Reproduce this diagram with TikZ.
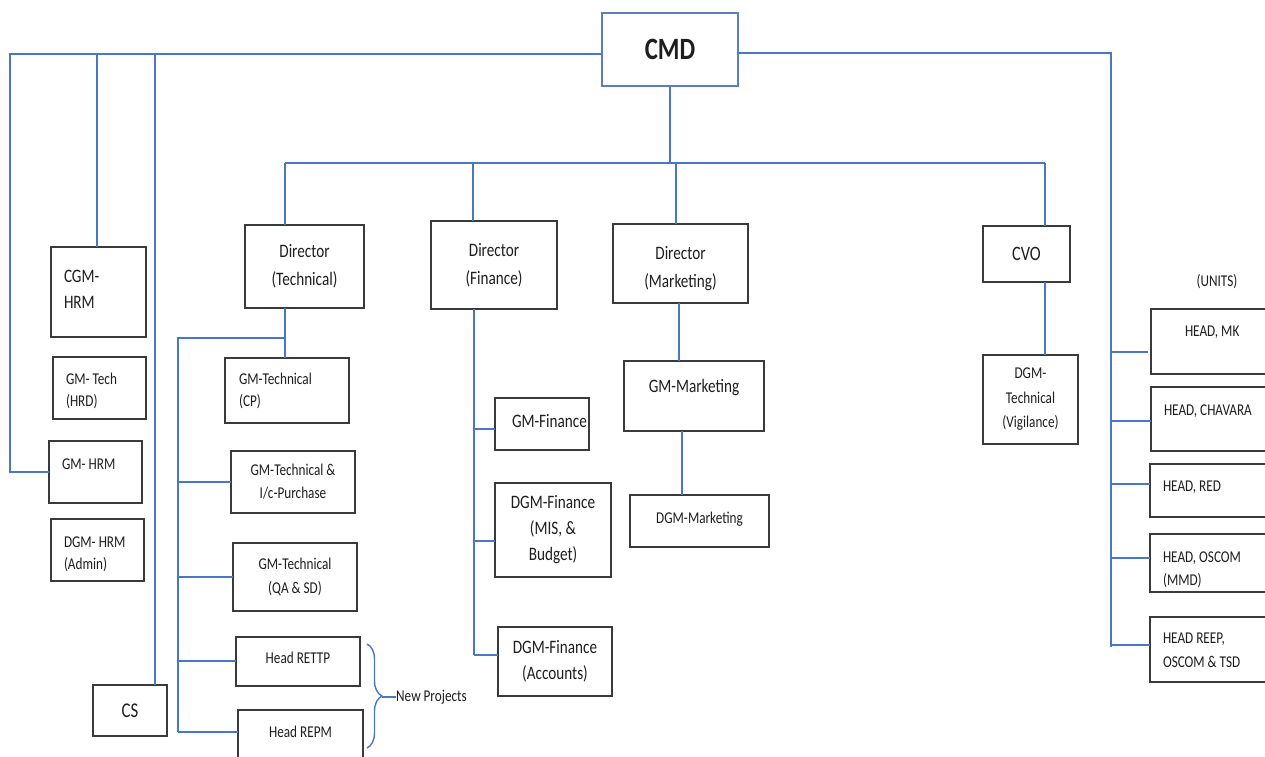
\documentclass[tikz,border=0pt]{standalone}
\usepackage{fontspec}
\setmainfont{Carlito}[FakeStretch=0.8]
\usetikzlibrary{decorations.pathreplacing}
\definecolor{lnblue}{HTML}{4A76C8}
\definecolor{cmdblue}{HTML}{5A7EC0}
\definecolor{boxgray}{HTML}{3A3A3A}
\definecolor{txtc}{HTML}{1E1E1E}
\newcommand{\fsmall}{\fontsize{16.5}{23}\selectfont}
\newcommand{\fbig}{\fontsize{19}{27}\selectfont}
% width, height, first-baseline offset, alignment+font, text
\newcommand{\topbx}[5]{\parbox[c][#2pt][t]{#1pt}{#4\rule{0pt}{#3pt}#5}}
% width, height, font, text (vertically centred)
\newcommand{\cbx}[4]{\parbox[c][#2pt][c]{#1pt}{#3\centering #4}}
\newcommand{\lft}[1]{\raggedright\leftskip=#1pt\relax}
\tikzset{
  x=1pt, y=-1pt,
  bx/.style={draw=boxgray, line width=1.5pt, inner sep=0pt, outer sep=0pt, anchor=north west, text=txtc, fill=white},
  cmdbx/.style={bx, draw=cmdblue, line width=1.8pt},
  ln/.style={draw=lnblue, line width=1.4pt},
  plain/.style={inner sep=0pt, text=txtc}
}
\begin{document}
\begin{tikzpicture}
\path[use as bounding box, fill=white] (0,0) rectangle (1265,756);
\clip (0,0) rectangle (1265,756);

% ---------- boxes ----------
\node[cmdbx] (cmd) at (602,13) {\cbx{136}{73}{\fontsize{31}{31}\selectfont\bfseries}{CMD}};

\node[bx] (cgm) at (51,247) {\topbx{95}{90}{35}{\fontsize{19}{26}\selectfont\lft{13}}{CGM-\\HRM}};
\node[bx] (hrd) at (53,357) {\topbx{93}{62}{27}{\fontsize{16.5}{22}\selectfont\lft{13}}{GM- Tech\\(HRD)}};
\node[bx] (gmhrm) at (49,441) {\topbx{93}{62}{28}{\fsmall\lft{13}}{GM- HRM}};
\node[bx] (dgmhrm) at (51,519) {\topbx{93}{62}{28}{\fontsize{16.5}{22}\selectfont\lft{13}}{DGM- HRM\\(Admin)}};
\node[bx] (cs) at (93,685) {\cbx{74}{51}{\fontsize{21}{21}\selectfont}{CS}};

\node[bx] (dt) at (245,225) {\cbx{119}{83}{\fontsize{19}{28}\selectfont}{Director\\(Technical)}};
\node[bx] (df) at (431,221) {\cbx{126}{88}{\fontsize{19}{28}\selectfont}{Director\\(Finance)}};
\node[bx] (dm) at (613,224) {\topbx{135}{79}{35}{\fontsize{19}{28}\selectfont\centering}{Director\\(Marketing)}};
\node[bx] (cvo) at (983,226) {\cbx{87}{56}{\fontsize{20.5}{20.5}\selectfont}{CVO}};

\node[bx] (cp) at (225,358) {\topbx{124}{65}{26}{\fontsize{16.5}{22}\selectfont\lft{14}}{GM-Technical\\(CP)}};
\node[bx] (ic) at (231,451) {\cbx{124}{62}{\fontsize{16.5}{23}\selectfont}{GM-Technical \&\\I/c-Purchase}};
\node[bx] (qa) at (233,543) {\cbx{124}{68}{\fontsize{16.5}{24}\selectfont}{GM-Technical\\(QA \& SD)}};
\node[bx] (rettp) at (236,637) {\topbx{124}{49}{26}{\fsmall\centering}{Head RETTP}};
\node[bx] (repm) at (238,710) {\topbx{125}{52}{27}{\fsmall\centering}{Head REPM}};

\node[bx] (gmf) at (495,398) {\topbx{94}{52}{29}{\fbig\lft{17}}{GM-Finance}};
\node[bx] (mis) at (495,483) {\cbx{116}{94}{\fontsize{19}{26}\selectfont}{DGM-Finance\\(MIS, \&\\Budget)}};
\node[bx] (acc) at (498,627) {\cbx{114}{69}{\fontsize{19}{26}\selectfont}{DGM-Finance\\(Accounts)}};

\node[bx] (gmm) at (624,361) {\topbx{140}{70}{31}{\fbig\centering}{GM-Marketing}};
\node[bx] (dgmm) at (630,495) {\topbx{139}{52}{28}{\fsmall\centering}{DGM-Marketing}};

\node[bx] (vig) at (983,355) {\cbx{95}{89}{\fontsize{16.5}{24.5}\selectfont}{DGM-\\Technical\\(Vigilance)}};

\node[plain, font=\fsmall] (units) at (1217,282) {(UNITS)};
\node[bx] (mk) at (1151,309) {\topbx{130}{65}{27}{\fsmall\lft{34}}{HEAD, MK}};
\node[bx] (chav) at (1151,387) {\topbx{130}{64}{28}{\fsmall\lft{13}}{HEAD, CHAVARA}};
\node[bx] (red) at (1150,464) {\topbx{130}{53}{27}{\fsmall\lft{13}}{HEAD, RED}};
\node[bx] (oscom) at (1150,534) {\topbx{130}{58}{28}{\fontsize{16.5}{23}\selectfont\lft{13}}{HEAD, OSCOM\\(MMD)}};
\node[bx] (reep) at (1150,617) {\topbx{130}{65}{26}{\fontsize{16.5}{24}\selectfont\lft{13}}{HEAD REEP,\\OSCOM \& TSD}};

% ---------- connectors ----------
% left side from CMD
\coordinate (tl) at (10,54);
\coordinate (v2) at (97,54);
\coordinate (v3) at (155,54);
\draw[ln] (cmd.west |- tl) -- (tl) |- (gmhrm.west);
\draw[ln] (v2) -- (v2 |- cgm.north);
\draw[ln] (v3) -- (v3 |- cs.north);

% right side (units)
\coordinate (tr) at (1111,53);
\coordinate (trb) at (1111,647);
\draw[ln] (cmd.east |- tr) -- (tr) -- (trb);
\coordinate (b1) at (1111,352);
\coordinate (b2) at (1111,421);
\coordinate (b3) at (1111,484);
\coordinate (b4) at (1111,558);
\coordinate (b5) at (1111,645);
\draw[ln] (b1) -- ([xshift=-3pt]b1 -| mk.west);
\draw[ln] (b2) -- (b2 -| chav.west);
\draw[ln] (b3) -- (b3 -| red.west);
\draw[ln] (b4) -- (b4 -| oscom.west);
\draw[ln] (b5) -- (b5 -| reep.west);

% directors bus
\coordinate (busl) at (285,163);
\coordinate (busr) at (1045,163);
\coordinate (bf) at (473,163);
\coordinate (bm) at (676,163);
\draw[ln] (cmd.south) -- (cmd.south |- busl);
\draw[ln] (busl) -- (busr);
\draw[ln] (busl) -- (busl |- dt.north);
\draw[ln] (bf) -- (bf |- df.north);
\draw[ln] (bm) -- (bm |- dm.north);
\draw[ln] (busr) -- (busr |- cvo.north);

% Director (Technical)
\coordinate (dtx) at (285,338);
\coordinate (tl2) at (178,338);
\coordinate (tb) at (178,732);
\coordinate (t3) at (178,661);
\draw[ln] (dtx |- dt.south) -- (dtx |- cp.north);
\draw[ln] (dtx) -- (tl2) -- (tb);
\draw[ln] (tl2 |- ic.west) -- (ic.west);
\draw[ln] (tl2 |- qa.west) -- (qa.west);
\draw[ln] (t3) -- (t3 -| rettp.west);
\draw[ln] (tb) -- (tb -| repm.west);

% Director (Finance)
\coordinate (fx) at (474,655);
\coordinate (f1) at (474,429);
\coordinate (f2) at (474,541);
\draw[ln] (fx |- df.south) -- (fx);
\draw[ln] (f1) -- (f1 -| gmf.west);
\draw[ln] (f2) -- (f2 -| mis.west);
\draw[ln] (fx) -- (fx -| acc.west);

% Director (Marketing)
\coordinate (mx1) at (679,330);
\coordinate (mx2) at (682,460);
\draw[ln] (mx1 |- dm.south) -- (mx1 |- gmm.north);
\draw[ln] (mx2 |- gmm.south) -- (mx2 |- dgmm.north);

% CVO
\draw[ln] (busr |- cvo.south) -- (busr |- vig.north);

% New Projects brace
\coordinate (bra) at (367,644);
\coordinate (brb) at (367,748);
\draw[ln, decorate, decoration={brace, amplitude=15pt}] (bra) -- (brb);
\coordinate (btip) at (382,697);
\node[plain, font=\fsmall, anchor=west] (np) at (396,697) {New Projects};
\draw[ln] (btip) -- (np.west);
\end{tikzpicture}
\end{document}
